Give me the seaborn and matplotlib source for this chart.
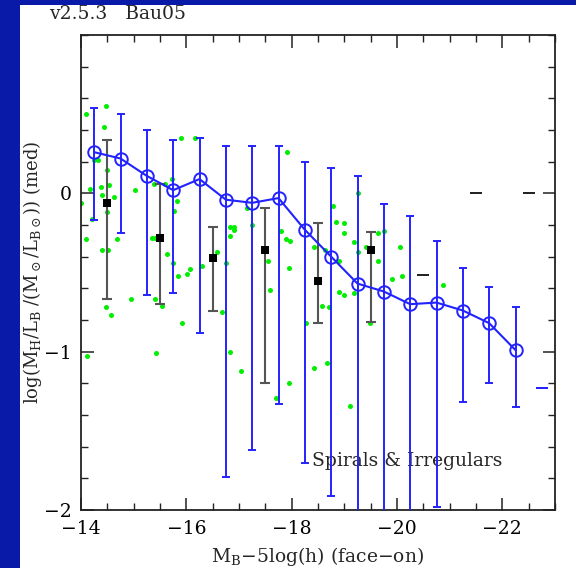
import matplotlib
matplotlib.use("Agg")
import matplotlib.pyplot as plt
import numpy as np
import seaborn as sns

# median line (blue open circles) with 10-90 percentile bars
med_x = [-14.25, -14.75, -15.25, -15.75, -16.25, -16.75, -17.25, -17.75, -18.25,
         -18.75, -19.25, -19.75, -20.25, -20.75, -21.25, -21.75, -22.25]
med_y = [0.26, 0.22, 0.11, 0.02, 0.09, -0.04, -0.06, -0.03, -0.23,
         -0.40, -0.57, -0.62, -0.70, -0.69, -0.74, -0.82, -0.99]
med_hi = [0.54, 0.50, 0.40, 0.34, 0.35, 0.30, 0.30, 0.30, 0.20,
          0.16, 0.11, -0.07, -0.14, -0.30, -0.47, -0.59, -0.72]
med_lo = [-0.17, -0.25, -0.64, -0.63, -0.88, -1.79, -1.62, -1.33, -1.70,
          -1.91, -2.30, -2.30, -2.30, -1.98, -1.32, -1.20, -1.35]

# observed medians (black squares)
obs_x = [-14.5, -15.5, -16.5, -17.5, -18.5, -19.5]
obs_y = [-0.06, -0.285, -0.41, -0.36, -0.555, -0.36]
obs_hi = [0.34, 0.06, -0.21, -0.09, -0.19, -0.245]
obs_lo = [-0.67, -0.70, -0.745, -1.20, -0.82, -0.81]

# empty bins (caps only)
empty_x = [-20.5, -21.5, -22.5]
empty_y = [-0.515, 0.0, 0.0]
lone_x = [-22.75]
lone_y = [-1.23]

# individual galaxies (green)
gal_x = [-14.10, -14.47, -14.43, -14.24, -14.32, -14.49, -14.18, -14.38, -14.53, -14.40,
         -14.62, -15.02, -14.00, -14.50, -14.20, -15.73, -15.83, -15.77, -14.10, -14.69,
         -14.40, -14.52, -15.35, -15.40, -15.63, -15.74, -15.84, -16.02, -16.07, -14.94,
         -15.40, -14.48, -14.57, -15.91, -15.43, -14.11, -15.89, -16.16, -15.38, -15.59,
         -15.53, -17.92, -17.15, -16.83, -16.91, -16.91, -16.83, -17.25, -17.79, -17.90,
         -17.96, -16.59, -18.42, -16.30, -16.76, -16.68, -16.83, -17.03, -17.55, -17.95,
         -17.59, -18.28, -17.95, -17.71, -18.43, -18.67, -19.26, -18.78, -18.85, -19.00,
         -19.00, -19.18, -19.26, -19.41, -19.64, -19.75, -20.05, -19.64, -19.90, -20.09,
         -20.87, -18.64, -18.89, -18.89, -19.00, -19.18, -18.58, -18.70, -19.48, -19.10]
gal_y = [0.50, 0.55, 0.42, 0.21, 0.21, 0.15, 0.03, 0.04, 0.05, -0.01,
         -0.02, 0.02, -0.06, -0.12, -0.16, 0.09, -0.05, -0.11, -0.29, -0.29,
         -0.36, -0.36, -0.28, -0.28, -0.38, -0.44, -0.52, -0.51, -0.48, -0.67,
         -0.67, -0.72, -0.77, -0.82, -1.01, -1.03, 0.35, 0.35, 0.06, 0.06,
         -0.71, 0.26, -0.09, -0.21, -0.21, -0.23, -0.27, -0.20, -0.24, -0.29,
         -0.30, -0.37, -0.34, -0.46, -0.44, -0.75, -1.00, -1.12, -0.43, -0.47,
         -0.61, -0.82, -1.20, -1.29, -1.10, -1.07, 0.00, -0.08, -0.18, -0.19,
         -0.25, -0.31, -0.37, -0.34, -0.25, -0.24, -0.34, -0.43, -0.54, -0.52,
         -0.58, -0.36, -0.43, -0.62, -0.64, -0.63, -0.71, -0.72, -0.82, -1.34]

sns.set_style("ticks")
plt.rcParams['font.family'] = ['DejaVu Serif']
plt.rcParams['mathtext.fontset'] = 'dejavuserif'

blue = '#2222ff'
fig = plt.figure(figsize=(5.76, 5.68), dpi=100, facecolor='#0a1aa8')
fig.patches.append(plt.Rectangle((20 / 576, 0), 1, 1 - 5 / 568, transform=fig.transFigure,
                                 facecolor='white', edgecolor='none', zorder=-10))
ax = fig.add_axes([81 / 576, 58 / 568, 474 / 576, 475 / 568])
ax.set_zorder(5)

sns.scatterplot(x=gal_x, y=gal_y, color='#00ee00', s=13, linewidth=0, ax=ax, zorder=1)

ax.errorbar(obs_x, obs_y,
            yerr=[np.subtract(obs_y, obs_lo), np.subtract(obs_hi, obs_y)],
            fmt='none', ecolor='#555555', elinewidth=1.5, capsize=3.5, capthick=1.5, zorder=2)
sns.scatterplot(x=obs_x, y=obs_y, color='black', marker='s', s=30, linewidth=0, ax=ax, zorder=3)
ax.errorbar(empty_x, empty_y, yerr=0, fmt='none', ecolor='#222222', capsize=4, capthick=1.3)

ax.errorbar(med_x, med_y,
            yerr=[np.subtract(med_y, med_lo), np.subtract(med_hi, med_y)],
            fmt='none', ecolor=blue, elinewidth=1.4, capsize=3.2, capthick=1.4, zorder=4)
ax.errorbar(lone_x, lone_y, yerr=0, fmt='none', ecolor=blue, capsize=4, capthick=1.4)
sns.lineplot(x=med_x, y=med_y, color=blue, lw=1.5, marker='o', markersize=9,
             markerfacecolor='none', markeredgecolor=blue, markeredgewidth=1.4, ax=ax, zorder=5)

ax.set_xlim(-14, -23)
ax.set_ylim(-2, 1)
ax.set_xticks([-14, -16, -18, -20, -22])
ax.set_xticks(np.arange(-14, -23.01, -0.5), minor=True)
ax.set_yticks([-2, -1, 0])
ax.set_yticks(np.arange(-2, 1.01, 0.2), minor=True)
ax.tick_params(which='both', direction='in', top=True, right=True, colors='#222222', labelsize=13.5,
               labelcolor='black')
ax.tick_params(which='major', length=9, width=1.1, pad=7)
ax.tick_params(which='minor', length=5, width=1.0)
for s in ax.spines.values():
    s.set_linewidth(1.3)
    s.set_color('#222222')

ax.set_xlabel(r'M$_{\rm B}$$-$5log(h) (face$-$on)', fontsize=13.5, labelpad=5)
ax.set_ylabel(r'log(M$_{\rm H}$/L$_{\rm B}$ /(M$_\odot$/L$_{\rm B\odot}$)) (med)', fontsize=13, labelpad=0)
ax.text(-18.38, -1.69, 'Spirals & Irregulars', fontsize=13.5, ha='left', va='center')
fig.text(49 / 576, 1 - 14 / 568, 'v2.5.3   Bau05', fontsize=13.5, ha='left', va='center')

fig.savefig('out.png', dpi=100, facecolor=fig.get_facecolor())
